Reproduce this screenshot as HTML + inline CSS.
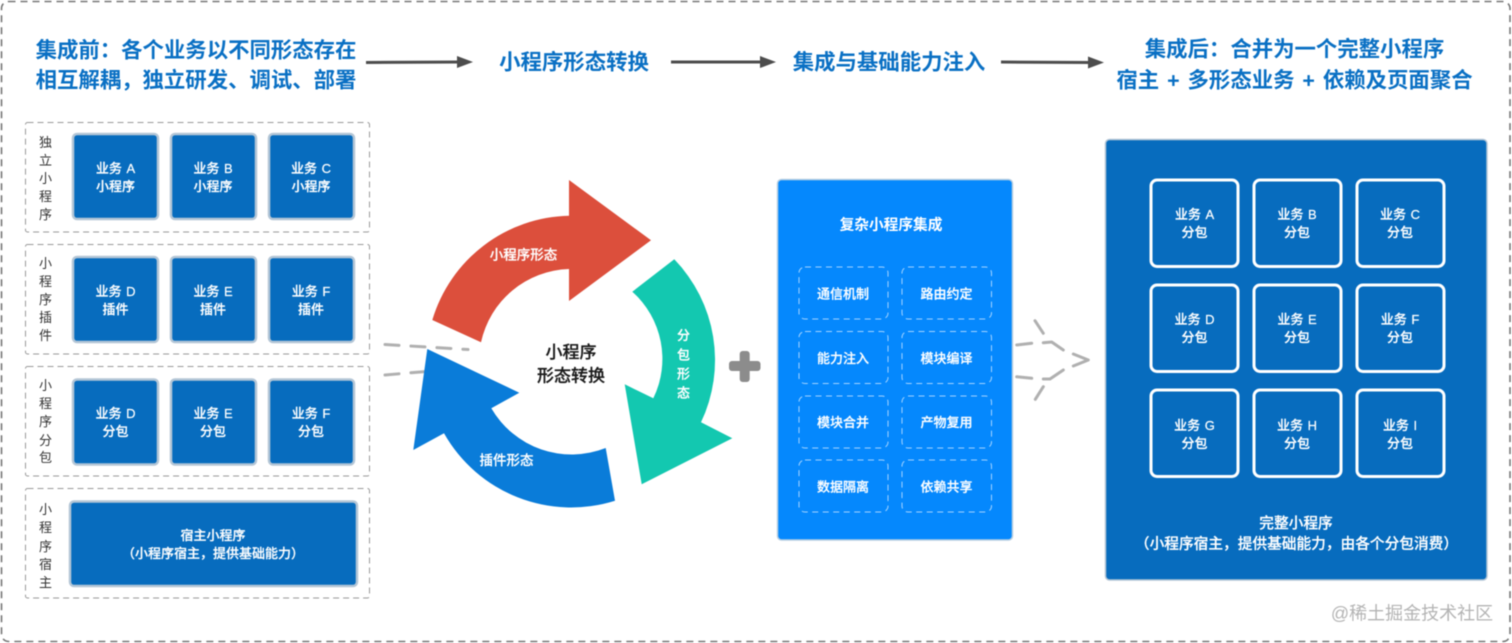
<!DOCTYPE html>
<html lang="zh"><head><meta charset="utf-8"><title>小程序形态转换</title>
<style>
html,body{margin:0;padding:0;background:#fff;width:1512px;height:643px;overflow:hidden}
svg{display:block;filter:blur(.45px)}
text{font-family:"Liberation Sans","Noto Sans CJK SC",sans-serif;text-anchor:middle;dominant-baseline:central;transform:translateY(.6px)}
.t{font-size:21.4px;font-weight:700;fill:#0a70c4}
.w{font-size:13px;font-weight:500;fill:#fff;stroke:#fff;stroke-width:.2px;word-spacing:1px}
.v{font-size:13px;fill:#333}
.g{fill:none;stroke:#999;stroke-dasharray:6 4}
.b{fill:#076cbe;stroke:#b4c6d6;stroke-width:2.5}
.i{fill:none;stroke:#fff;stroke-width:3}
.d{fill:none;stroke:#a5d4ff;stroke-dasharray:6 4.5}
.h{fill:none;stroke:#b0b0b0;stroke-width:3;stroke-linecap:round;stroke-linejoin:round}
.a{stroke:#4d4d4d;stroke-width:3}
.p{fill:#4d4d4d}
</style></head><body>
<svg width="1512" height="643" viewBox="0 0 1512 643" xmlns="http://www.w3.org/2000/svg">
<rect x="1.5" y="1.5" width="1508.5" height="640" rx="7" fill="#fff" stroke="#777" stroke-width="1.6" stroke-dasharray="7 5"/>

<!-- Header -->
<text class="t" x="196" y="50">集成前&#xFF1A;各个业务以不同形态存在</text>
<text class="t" x="196" y="80">相互解耦&#xFF0C;独立研发、调试、部署</text>
<text class="t" x="574" y="62">小程序形态转换</text>
<text class="t" x="889" y="62">集成与基础能力注入</text>
<text class="t" x="1294.500" y="49">集成后&#xFF1A;合并为一个完整小程序</text>
<text class="t" x="1294.500" y="80" style="word-spacing:2px">宿主 + 多形态业务 + 依赖及页面聚合</text>
<line class="a" x1="366" y1="62.500" x2="460" y2="62"/><path class="p" d="M457,56 L473,62 L457,68 Z"/>
<line class="a" x1="671" y1="62" x2="763" y2="62"/><path class="p" d="M760,56 L776,62 L760,68 Z"/>
<line class="a" x1="1001" y1="62" x2="1091" y2="62.500"/><path class="p" d="M1088,56.500 L1104,62.500 L1088,68.500 Z"/>

<!-- Left groups -->
<rect class="g" x="25.500" y="122.500" width="344" height="109.500" rx="2"/>
<rect class="g" x="25.500" y="244.500" width="344" height="109.500" rx="2"/>
<rect class="g" x="25.500" y="366.500" width="344" height="109.500" rx="2"/>
<rect class="g" x="25.500" y="488.500" width="344" height="109.500" rx="2"/>

<text class="v" x="45.500" y="142">独</text><text class="v" x="45.500" y="160">立</text><text class="v" x="45.500" y="178">小</text><text class="v" x="45.500" y="196">程</text><text class="v" x="45.500" y="214">序</text>
<text class="v" x="45.500" y="263">小</text><text class="v" x="45.500" y="281">程</text><text class="v" x="45.500" y="299">序</text><text class="v" x="45.500" y="317">插</text><text class="v" x="45.500" y="335">件</text>
<text class="v" x="45.500" y="385">小</text><text class="v" x="45.500" y="403">程</text><text class="v" x="45.500" y="421">序</text><text class="v" x="45.500" y="440">分</text><text class="v" x="45.500" y="457">包</text>
<text class="v" x="45.500" y="509">小</text><text class="v" x="45.500" y="527">程</text><text class="v" x="45.500" y="546">序</text><text class="v" x="45.500" y="564">宿</text><text class="v" x="45.500" y="582">主</text>

<rect class="b" x="73" y="134" width="85" height="85" rx="4"/><rect class="b" x="171" y="134" width="85" height="85" rx="4"/><rect class="b" x="269" y="134" width="85" height="85" rx="4"/>
<rect class="b" x="73" y="257" width="85" height="85" rx="4"/><rect class="b" x="171" y="257" width="85" height="85" rx="4"/><rect class="b" x="269" y="257" width="85" height="85" rx="4"/>
<rect class="b" x="73" y="379.500" width="85" height="85" rx="4"/><rect class="b" x="171" y="379.500" width="85" height="85" rx="4"/><rect class="b" x="269" y="379.500" width="85" height="85" rx="4"/>
<rect class="b" x="70" y="501.500" width="287" height="84.500" rx="4"/>

<text class="w" x="115.500" y="168">业务 A</text><text class="w" x="115.500" y="186">小程序</text>
<text class="w" x="213" y="168">业务 B</text><text class="w" x="213" y="186">小程序</text>
<text class="w" x="311" y="168">业务 C</text><text class="w" x="311" y="186">小程序</text>
<text class="w" x="115.500" y="291">业务 D</text><text class="w" x="115.500" y="309">插件</text>
<text class="w" x="213" y="291">业务 E</text><text class="w" x="213" y="309">插件</text>
<text class="w" x="311" y="291">业务 F</text><text class="w" x="311" y="309">插件</text>
<text class="w" x="115.500" y="413">业务 D</text><text class="w" x="115.500" y="431">分包</text>
<text class="w" x="213" y="413">业务 E</text><text class="w" x="213" y="431">分包</text>
<text class="w" x="311" y="413">业务 F</text><text class="w" x="311" y="431">分包</text>
<text class="w" x="213" y="535">宿主小程序</text><text class="w" x="213" y="553">&#xFF08;小程序宿主&#xFF0C;提供基础能力&#xFF09;</text>

<!-- Dashes behind the ring -->
<line class="h" x1="385" y1="344.500" x2="468" y2="349.500" stroke-dasharray="14 12"/>
<line class="h" x1="385" y1="375" x2="426" y2="371.500" stroke-dasharray="14 12"/>

<!-- Ring -->
<path fill="#dc4f3c" d="M432.300,320 A146,146 0 0 1 569,215.700 L569,180 L651,240.300 L569,301 L569,269 A93,93 0 0 0 481,342.300 Z"/>
<path fill="#13c8b0" d="M674.300,259.300 A145,145 0 0 1 701,422.300 L732.300,438.300 L641.700,484.300 L624.700,384.300 L653.300,398.300 A90,90 0 0 0 632.300,291.700 Z"/>
<path fill="#0a7cd9" d="M615,500.700 A146,146 0 0 1 444,433.300 L413.300,450 L427.300,349 L519.300,392.700 L491.300,408.300 A93,93 0 0 0 605.700,448 Z"/>
<text x="523.500" y="254.500" style="font-size:13.500px;font-weight:500;fill:#fff;stroke:#fff;stroke-width:.2px">小程序形态</text>
<text x="506.500" y="460" style="font-size:13.500px;font-weight:500;fill:#fff;stroke:#fff;stroke-width:.2px">插件形态</text>
<text class="w" x="683.500" y="335">分</text><text class="w" x="683.500" y="354.500">包</text><text class="w" x="683.500" y="373.500">形</text><text class="w" x="683.500" y="392.500">态</text>
<text x="571" y="352" style="font-size:17px;font-weight:500;fill:#1a1a1a;stroke:#1a1a1a;stroke-width:.25px">小程序</text>
<text x="571" y="375.500" style="font-size:17px;font-weight:500;fill:#1a1a1a;stroke:#1a1a1a;stroke-width:.25px">形态转换</text>

<!-- Plus -->
<rect x="729" y="361" width="31.500" height="10" rx="3" fill="#8c8c8c"/>
<rect x="739.700" y="351" width="10" height="31" rx="3" fill="#8c8c8c"/>

<!-- Middle panel -->
<rect x="777.500" y="179.500" width="235" height="360.500" rx="4" fill="#0588fd" stroke="#b8cfe2" stroke-width="1.500"/>
<text x="891" y="225" style="font-size:14.700px;font-weight:600;fill:#fff">复杂小程序集成</text>
<rect class="d" x="799" y="267" width="89" height="52" rx="6"/><rect class="d" x="902" y="267" width="89.500" height="52" rx="6"/>
<rect class="d" x="799" y="331.500" width="89" height="52" rx="6"/><rect class="d" x="902" y="331.500" width="89.500" height="52" rx="6"/>
<rect class="d" x="799" y="396" width="89" height="52" rx="6"/><rect class="d" x="902" y="396" width="89.500" height="52" rx="6"/>
<rect class="d" x="799" y="460" width="89" height="52" rx="6"/><rect class="d" x="902" y="460" width="89.500" height="52" rx="6"/>
<text class="w" x="843" y="293.500">通信机制</text><text class="w" x="946.500" y="293.500">路由约定</text>
<text class="w" x="843" y="358">能力注入</text><text class="w" x="946.500" y="358">模块编译</text>
<text class="w" x="843" y="422">模块合并</text><text class="w" x="946.500" y="422">产物复用</text>
<text class="w" x="843" y="486.500">数据隔离</text><text class="w" x="946.500" y="486.500">依赖共享</text>

<!-- Right dashed arrow -->
<path class="h" d="M1016.700,345 L1031.700,343.300 M1016.700,376.700 L1031.700,378.300 M1043.300,342.700 L1051.700,342 L1063.300,350 M1043.300,379 L1050,379 L1063.300,370 M1035,320.700 L1043.300,333.300 M1043.300,386.700 L1035.300,399.300 M1073.300,354 L1088.300,360 L1073.300,366"/>

<!-- Right panel -->
<rect x="1105.500" y="139.500" width="381.500" height="440.500" rx="4" fill="#076cbe" stroke="#b4c6d6" stroke-width="1.500"/>
<rect class="i" x="1151" y="180" width="87" height="86.500" rx="6"/><rect class="i" x="1254" y="180" width="87" height="86.500" rx="6"/><rect class="i" x="1357" y="180" width="87" height="86.500" rx="6"/>
<rect class="i" x="1151" y="285" width="87" height="86.500" rx="6"/><rect class="i" x="1254" y="285" width="87" height="86.500" rx="6"/><rect class="i" x="1357" y="285" width="87" height="86.500" rx="6"/>
<rect class="i" x="1151" y="390" width="87" height="86.500" rx="6"/><rect class="i" x="1254" y="390" width="87" height="86.500" rx="6"/><rect class="i" x="1357" y="390" width="87" height="86.500" rx="6"/>
<text class="w" x="1194.500" y="214">业务 A</text><text class="w" x="1194.500" y="232">分包</text>
<text class="w" x="1297" y="214">业务 B</text><text class="w" x="1297" y="232">分包</text>
<text class="w" x="1400" y="214">业务 C</text><text class="w" x="1400" y="232">分包</text>
<text class="w" x="1194.500" y="319">业务 D</text><text class="w" x="1194.500" y="337">分包</text>
<text class="w" x="1297" y="319">业务 E</text><text class="w" x="1297" y="337">分包</text>
<text class="w" x="1400" y="319">业务 F</text><text class="w" x="1400" y="337">分包</text>
<text class="w" x="1194.500" y="425">业务 G</text><text class="w" x="1194.500" y="443">分包</text>
<text class="w" x="1297" y="425">业务 H</text><text class="w" x="1297" y="443">分包</text>
<text class="w" x="1400" y="425">业务 I</text><text class="w" x="1400" y="443">分包</text>
<text x="1296" y="523.500" style="font-size:14.700px;font-weight:500;fill:#fff;stroke:#fff;stroke-width:.2px">完整小程序</text>
<text x="1296.500" y="544" style="font-size:14.700px;font-weight:500;fill:#fff;stroke:#fff;stroke-width:.2px">&#xFF08;小程序宿主&#xFF0C;提供基础能力&#xFF0C;由各个分包消费&#xFF09;</text>

<!-- Watermark -->
<text x="1412" y="613" style="font-size:18px;fill:#b4b4b4">@稀土掘金技术社区</text>
</svg>
</body></html>
